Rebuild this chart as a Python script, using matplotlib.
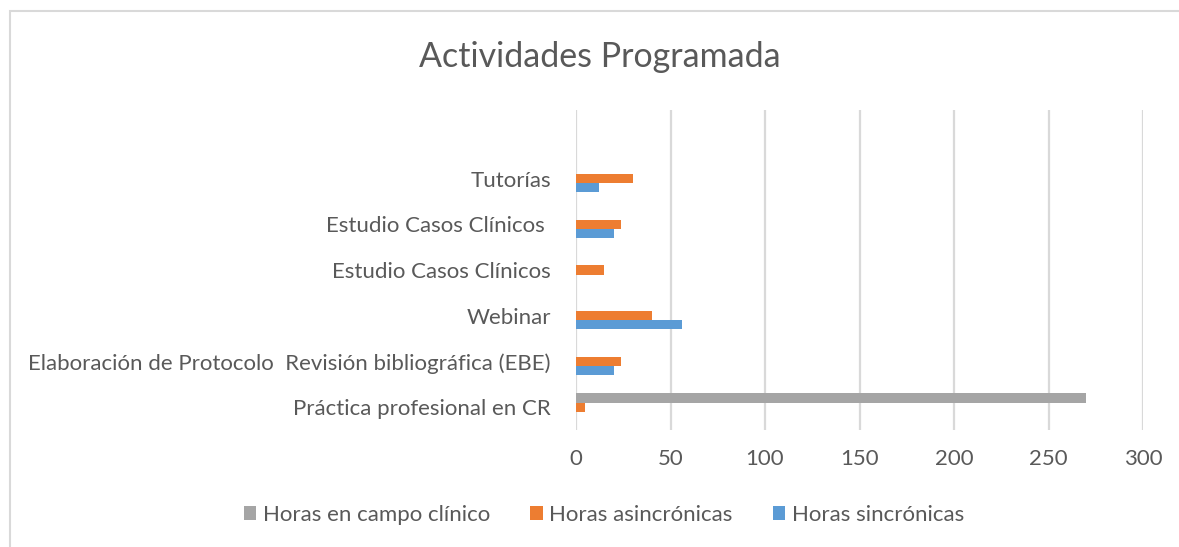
import matplotlib
matplotlib.use("Agg")
import matplotlib.pyplot as plt
import numpy as np
from matplotlib.patches import Rectangle

categories = ["Práctica profesional en CR",
              "Elaboración de Protocolo  Revisión bibliográfica (EBE)",
              "Webinar",
              "Estudio Casos Clínicos",
              "Estudio Casos Clínicos ",
              "Tutorías"]
horas_sincronicas = [0, 20, 56, 0, 20, 12]
horas_asincronicas = [5, 24, 40, 15, 24, 30]
horas_campo = [270, 0, 0, 0, 0, 0]
x_ticks = [0, 50, 100, 150, 200, 250, 300]

plt.rcParams['font.family'] = ['Lato', 'DejaVu Sans']
TXT = '#595959'
BLUE = '#5B9BD5'
ORANGE = '#ED7D31'
GRAY = '#A5A5A5'

fig = plt.figure(figsize=(11.79, 5.47), dpi=100)
ax = fig.add_axes([576/1179, 1-430/547, (1143-576)/1179, (430-110)/547])

y = np.arange(len(categories))
h = 0.2
ax.barh(y - h, horas_sincronicas, height=h, color=BLUE, label='Horas sincrónicas', zorder=3)
ax.barh(y, horas_asincronicas, height=h, color=ORANGE, label='Horas asincrónicas', zorder=3)
ax.barh(y + h, horas_campo, height=h, color=GRAY, label='Horas en campo clínico', zorder=3)

ax.set_xlim(0, 300)
ax.set_ylim(-0.5, 6.5)
ax.set_xticks(x_ticks)
ax.set_xticklabels([str(v) for v in x_ticks])
ax.set_yticks(y)
ax.set_yticklabels(categories)
ax.tick_params(axis='both', length=0, labelsize=16, colors=TXT)
ax.tick_params(axis='y', pad=18)
ax.tick_params(axis='x', pad=14)
ax.xaxis.grid(True, color='#D9D9D9', linewidth=1.6, zorder=0)
for s in ax.spines.values():
    s.set_visible(False)

fig.text(600/1179, 1-57/547, 'Actividades Programada', ha='center', va='center',
         fontsize=24.5, color=TXT)

handles, labels = ax.get_legend_handles_labels()
leg = fig.legend(handles[::-1], labels[::-1], loc='center', bbox_to_anchor=(604/1179, 1-515/547),
                 ncol=3, frameon=False, fontsize=16, handlelength=0.55, handleheight=0.55,
                 handletextpad=0.3, columnspacing=1.8)
for t in leg.get_texts():
    t.set_color(TXT)

fig.patches.append(Rectangle((10/1179, -0.1), 1.2, 1-11/547+0.1, transform=fig.transFigure,
                             fill=False, edgecolor='#D9D9D9', linewidth=1.5))

fig.savefig('out.png', dpi=100)
